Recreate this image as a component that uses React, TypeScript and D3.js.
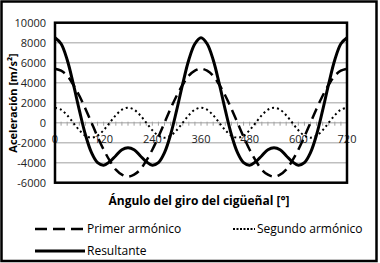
import React from "react";
import * as d3 from "d3";

const angles: number[] = d3.range(0, 721, 15);
const xTicks: number[] = [0, 120, 240, 360, 480, 600, 720];
const yTicks: number[] = [-6000, -4000, -2000, 0, 2000, 4000, 6000, 8000, 10000];

const primer: number[] = [
  5400, 5200, 4700, 3800, 2700, 1400, 0, -1400, -2700, -3800, -4700, -5200, -5400,
  -5200, -4700, -3800, -2700, -1400, 0, 1400, 2700, 3800, 4700, 5200, 5400,
  5200, 4700, 3800, 2700, 1400, 0, -1400, -2700, -3800, -4700, -5200, -5400,
  -5200, -4700, -3800, -2700, -1400, 0, 1400, 2700, 3800, 4700, 5200, 5400,
];
const segundo: number[] = [
  1500, 1300, 750, 0, -750, -1300, -1500, -1300, -750, 0, 750, 1300, 1500,
  1300, 750, 0, -750, -1300, -1500, -1300, -750, 0, 750, 1300, 1500,
  1300, 750, 0, -750, -1300, -1500, -1300, -750, 0, 750, 1300, 1500,
  1300, 750, 0, -750, -1300, -1500, -1300, -750, 0, 750, 1300, 1500,
];
const resultante: number[] = [
  8500, 7900, 6300, 3900, 1250, -1200, -3000, -4000, -4250, -3900, -3300, -2700, -2500,
  -2700, -3300, -3900, -4250, -4000, -3000, -1200, 1250, 3900, 6300, 7900, 8500,
  7900, 6300, 3900, 1250, -1200, -3000, -4000, -4250, -3900, -3300, -2700, -2500,
  -2700, -3300, -3900, -4250, -4000, -3000, -1200, 1250, 3900, 6300, 7900, 8500,
];

const FONT = "'Open Sans', 'DejaVu Sans', sans-serif";

export default function App() {
  const W = 380, H = 263;
  const L = 55, R = 347, T = 22.7, B = 182.7;
  const x = d3.scaleLinear().domain([0, 720]).range([L, R]);
  const y = d3.scaleLinear().domain([-6000, 10000]).range([B, T]);
  const line = (vals: number[]) =>
    d3.line<number>().x((_, i) => x(angles[i])).y((v) => y(v)).curve(d3.curveCatmullRom.alpha(0.5))(vals) || "";
  const y0 = y(0);

  return (
    <svg width={W} height={H} style={{ position: "absolute", left: 0, top: 0, background: "#fff" }} fontFamily={FONT}>
      <rect x={0} y={0} width={W} height={H} fill="#fff" />
      <rect x={1.5} y={1.5} width={375} height={259.5} fill="none" stroke="#000" strokeWidth={2.5} />
      {yTicks.map((t) => (
        <line key={t} x1={L} x2={R} y1={y(t)} y2={y(t)} stroke="#bfbfbf" strokeWidth={1.6} />
      ))}
      {angles.map((a) => (
        <line key={a} x1={x(a)} x2={x(a)} y1={y0 - 1} y2={y0 + 3} stroke="#a0a0a0" strokeWidth={1} />
      ))}
      {yTicks.map((t) => (
        <text key={t} x={46} y={y(t) + 4} textAnchor="end" fontSize={11} fill="#222">{t}</text>
      ))}
      {xTicks.map((t) => (
        <text key={t} x={x(t)} y={y0 + 20.5} textAnchor="middle" fontSize={11} fill="#222">{t}</text>
      ))}
      <path d={line(segundo)} fill="none" stroke="#000" strokeWidth={2} strokeDasharray="2,3" />
      <path d={line(primer)} fill="none" stroke="#000" strokeWidth={2.5} strokeDasharray="11,6" />
      <path d={line(resultante)} fill="none" stroke="#000" strokeWidth={3} />
      <rect x={L} y={T} width={R - L} height={B - T} fill="none" stroke="#000" strokeWidth={2.5} />
      <text transform={`translate(17,103) rotate(-90)`} textAnchor="middle" fontSize={11} fontWeight="bold" fill="#000">
        Aceleración [m/s²]
      </text>
      <text x={199} y={205} textAnchor="middle" fontSize={12} fontWeight="bold" fill="#000">
        Ángulo del giro del cigüeñal [°]
      </text>
      <line x1={35} x2={85} y1={229} y2={229} stroke="#000" strokeWidth={2.5} strokeDasharray="12,6" />
      <text x={87} y={233} fontSize={12} fill="#000">Primer armónico</text>
      <line x1={233} x2={255} y1={229} y2={229} stroke="#000" strokeWidth={2} strokeDasharray="2,1.5" />
      <text x={257} y={233} fontSize={12} fill="#000">Segundo armónico</text>
      <line x1={35} x2={85} y1={251} y2={251} stroke="#000" strokeWidth={3} />
      <text x={87} y={255} fontSize={12} fill="#000">Resultante</text>
    </svg>
  );
}
